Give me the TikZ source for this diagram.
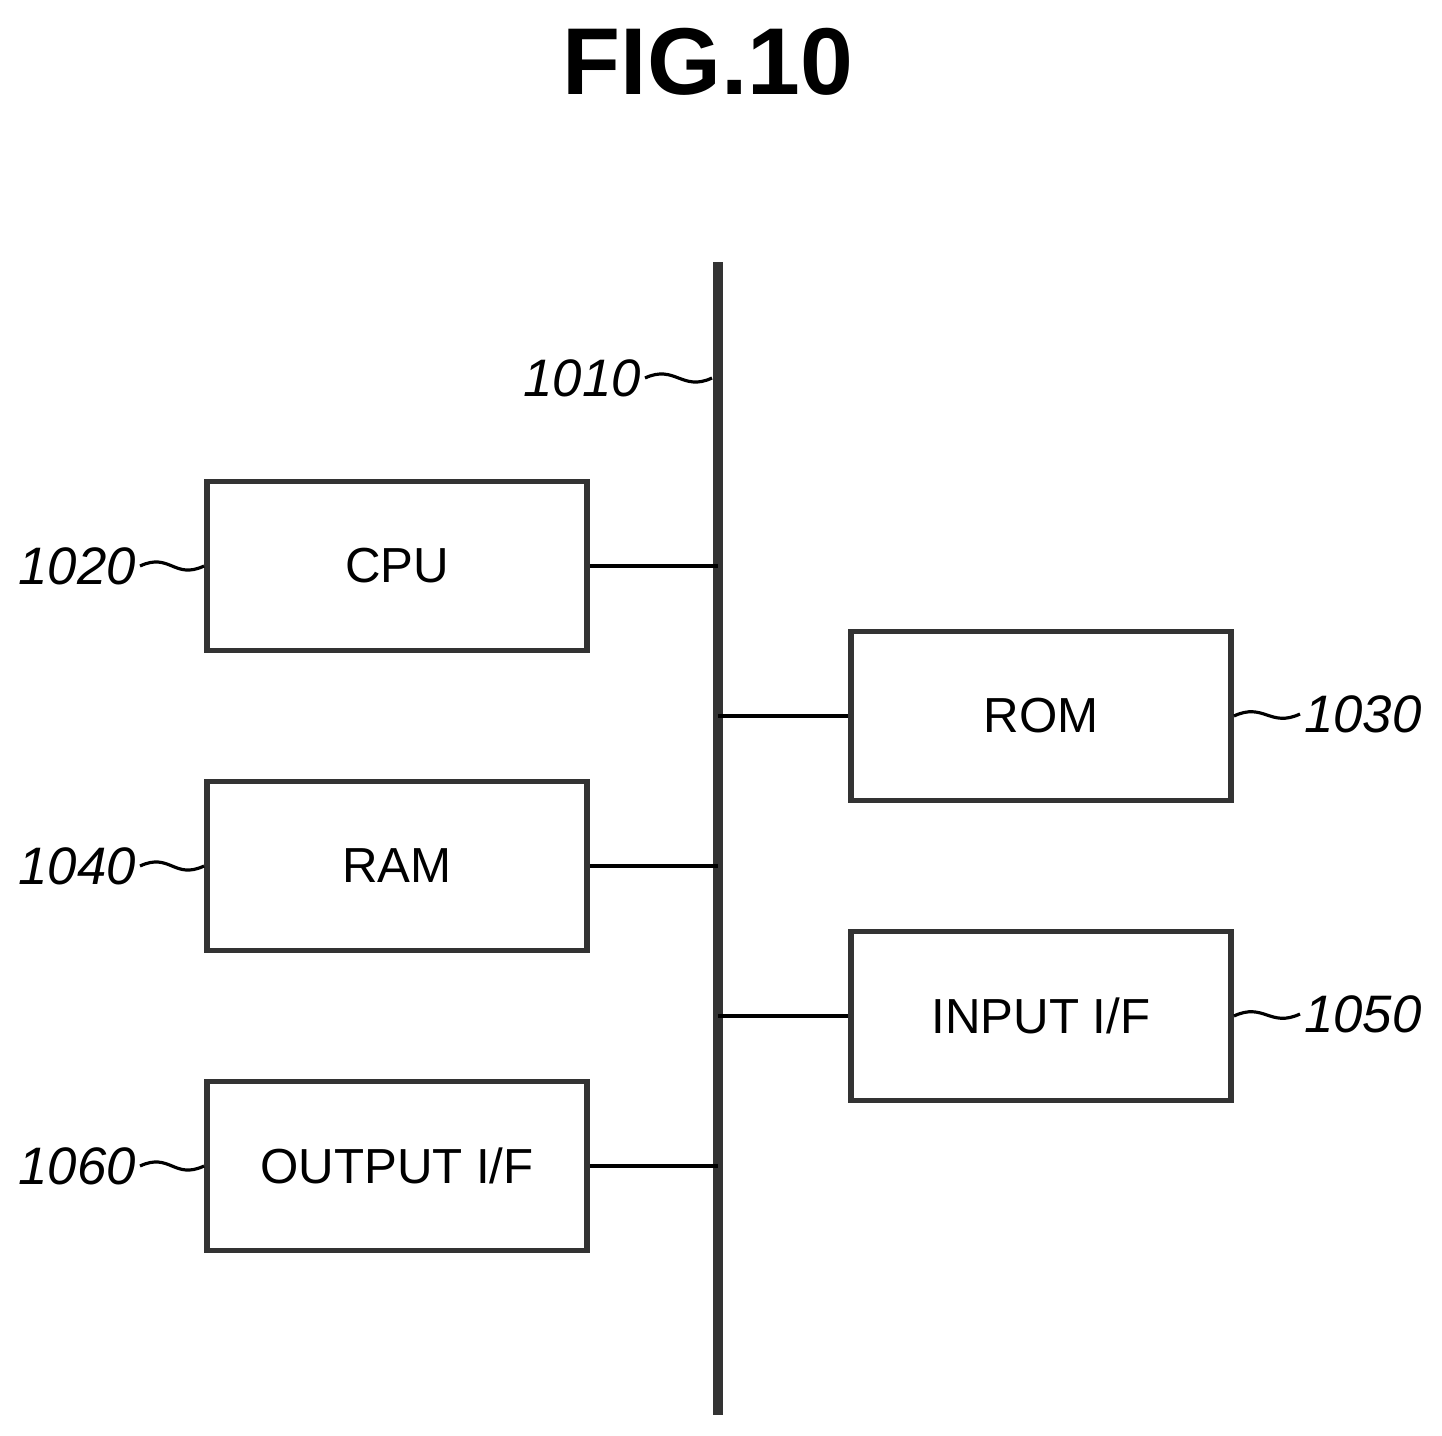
\documentclass[tikz,border=0pt]{standalone}
\usepackage{fontspec}
\setmainfont{Liberation Sans}
\usetikzlibrary{positioning,calc}

\begin{document}
\begin{tikzpicture}[x=0.01cm,y=-0.01cm,
block/.style ={rectangle, draw=black!80, line width=1.6pt, minimum width=3.8cm, minimum height=1.69cm, text centered, font=\fontsize{14}{17}\selectfont},
refno/.style ={font=\itshape\fontsize{15}{18}\selectfont, inner sep=1pt},
leader/.style ={-, line width=0.9pt},
bus/.style ={-, line width=3pt, draw=black!80},
connection/.style ={-, line width=0.9pt},
]
\useasboundingbox (0,0) rectangle (1442,1436);

\node (TITLE) at (708,62) {\bfseries\fontsize{27}{30}\selectfont FIG.10};

% bus
\coordinate (BUSTOP) at (718,262);
\coordinate (BUSBOT) at (718,1415);
\draw[bus] (BUSTOP) -- (BUSBOT);

\node (CPU) [block] at (397,566) {CPU};
\node (ROM) [block] at (1041,716) {ROM};
\node (RAM) [block] at (397,866) {RAM};
\node (INPUT) [block] at (1041,1016) {INPUT I/F};
\node (OUTPUT) [block] at (397,1166) {OUTPUT I/F};

\draw[connection] (CPU.east) -- (CPU.east -| BUSTOP);
\draw[connection] (RAM.east) -- (RAM.east -| BUSTOP);
\draw[connection] (OUTPUT.east) -- (OUTPUT.east -| BUSTOP);
\draw[connection] (ROM.west) -- (ROM.west -| BUSTOP);
\draw[connection] (INPUT.west) -- (INPUT.west -| BUSTOP);

% reference numerals
\node (N1010) [refno, anchor=east] at (645,378) {1010};
\node (N1020) [refno, anchor=east] at (140,566) {1020};
\node (N1040) [refno, anchor=east] at (140,866) {1040};
\node (N1060) [refno, anchor=east] at (140,1166) {1060};
\node (N1030) [refno, anchor=west] at (1300,714) {1030};
\node (N1050) [refno, anchor=west] at (1300,1014) {1050};

\draw[leader] (N1010.east) .. controls +(30,-14) and +(-30,14) .. ($(N1010.east -| BUSTOP)+(-6,0)$);
\draw[leader] (N1020.east) .. controls +(30,-14) and +(-30,14) .. (CPU.west);
\draw[leader] (N1040.east) .. controls +(30,-14) and +(-30,14) .. (RAM.west);
\draw[leader] (N1060.east) .. controls +(30,-14) and +(-30,14) .. (OUTPUT.west);
\draw[leader] (ROM.east) .. controls +(30,-14) and +(-30,14) .. (N1030.west);
\draw[leader] (INPUT.east) .. controls +(30,-14) and +(-30,14) .. (N1050.west);

\end{tikzpicture}
\end{document}
